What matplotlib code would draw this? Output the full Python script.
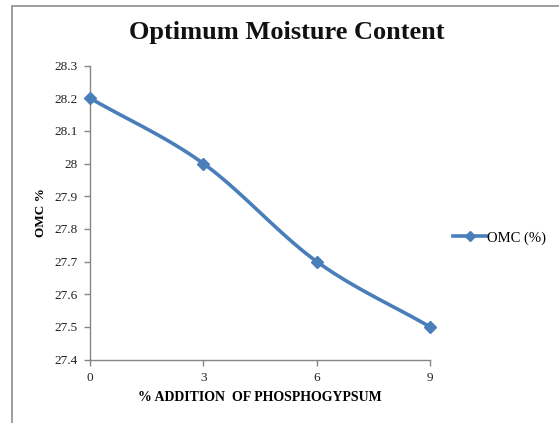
import numpy as np
import matplotlib
matplotlib.use("Agg")
import matplotlib.pyplot as plt
from matplotlib.lines import Line2D
from matplotlib.patches import Rectangle

# Data
additions = [0, 3, 6, 9]
omc = [28.2, 28.0, 27.7, 27.5]
y_ticks = [27.4, 27.5, 27.6, 27.7, 27.8, 27.9, 28.0, 28.1, 28.2, 28.3]
y_tick_labels = ["27.4", "27.5", "27.6", "27.7", "27.8", "27.9", "28", "28.1", "28.2", "28.3"]
x_ticks = [0, 3, 6, 9]
series_name = "OMC (%)"

LINE_COLOR = "#4a7ebb"
plt.rcParams["font.family"] = ["Liberation Serif", "DejaVu Serif"]


def smooth_curve(xs, ys, n=40):
    """Catmull-Rom spline through the points (Excel-style smoothed line)."""
    xs = np.asarray(xs, float)
    ys = np.asarray(ys, float)
    px = np.concatenate([[2 * xs[0] - xs[1]], xs, [2 * xs[-1] - xs[-2]]])
    py = np.concatenate([[2 * ys[0] - ys[1]], ys, [2 * ys[-1] - ys[-2]]])
    out_x, out_y = [], []
    for i in range(1, len(px) - 2):
        t = np.linspace(0, 1, n)
        for arr, out in ((px, out_x), (py, out_y)):
            p0, p1, p2, p3 = arr[i - 1], arr[i], arr[i + 1], arr[i + 2]
            out.extend(0.5 * ((2 * p1) + (-p0 + p2) * t
                              + (2 * p0 - 5 * p1 + 4 * p2 - p3) * t ** 2
                              + (-p0 + 3 * p1 - 3 * p2 + p3) * t ** 3))
    return np.array(out_x), np.array(out_y)


fig = plt.figure(figsize=(5.59, 4.23), dpi=100)
fig.patch.set_facecolor("white")

# Chart frame
fig.patches.append(Rectangle((12 / 559, -0.05), 1.1, 1.05 - 6 / 423,
                             transform=fig.transFigure, fill=False,
                             edgecolor="#8c8c8c", linewidth=1.2))

ax = fig.add_axes([90 / 559, 1 - 359.5 / 423, 340 / 559, 294 / 423])

sx, sy = smooth_curve(additions, omc)
ax.plot(sx, sy, color=LINE_COLOR, linewidth=2.6, solid_capstyle="round", zorder=3)
ax.plot(additions, omc, linestyle="none", marker="D", markersize=6,
        color=LINE_COLOR, zorder=4, clip_on=False)

ax.set_xlim(0, 9)
ax.set_ylim(27.4, 28.3)
ax.set_xticks(x_ticks)
ax.set_xticklabels([str(v) for v in x_ticks])
ax.set_yticks(y_ticks)
ax.set_yticklabels(y_tick_labels)

for side in ("top", "right"):
    ax.spines[side].set_visible(False)
for side in ("left", "bottom"):
    ax.spines[side].set_color("#868686")
    ax.spines[side].set_linewidth(1.0)

ax.tick_params(axis="both", direction="out", length=4, width=1.0,
               color="#868686", labelsize=9.5, labelcolor="#222222", pad=5)

ax.set_xlabel("% ADDITION  OF PHOSPHOGYPSUM", fontsize=10, fontweight="bold",
              labelpad=5)
ax.set_ylabel("OMC %", fontsize=9.5, fontweight="bold", labelpad=5)

fig.text(287 / 559, 1 - 33 / 423, "Optimum Moisture Content", ha="center",
         va="center", fontsize=19, fontweight="bold", color="#111111")

handle = Line2D([], [], color=LINE_COLOR, linewidth=2.6, marker="D",
                markersize=5)
fig.legend([handle], [series_name], loc="center left",
           bbox_to_anchor=(453 / 559, 1 - 238 / 423), frameon=False,
           fontsize=10.5, handlelength=2.3, handletextpad=0.05,
           borderpad=0, borderaxespad=0)

fig.savefig("out.png", dpi=100)
